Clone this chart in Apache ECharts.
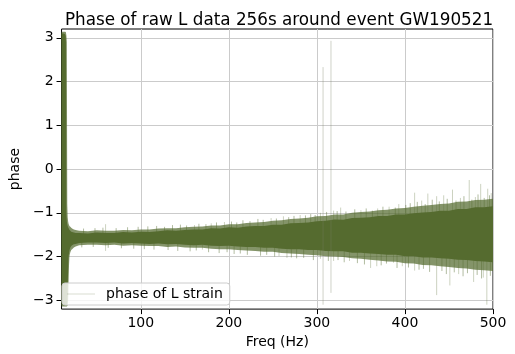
<!DOCTYPE html>
<html><head><meta charset="utf-8">
<script src="https://cdn.jsdelivr.net/npm/echarts@6/dist/echarts.min.js"></script>
<style>html,body{margin:0;padding:0;background:#fff}#c{width:515px;height:354px}</style>
</head><body><div id="c"></div>
<script>
// ---- data ----
const titleText = 'Phase of raw L data 256s around event GW190521';
const xTicks = [100, 200, 300, 400, 500];
const yTicks = [-3, -2, -1, 0, 1, 2, 3];

// band frequencies (Hz)
const bandF = [10, 12, 14, 14.8, 15, 15.5, 16, 16.5, 17, 17.5, 18, 18.5, 19, 19.5, 20, 21, 22, 24, 26,
  30, 40, 50, 60, 70, 80, 90, 100, 110, 120, 130, 140, 150, 160, 170, 180, 190, 200,
  210, 220, 230, 240, 250, 260, 270, 280, 290, 300, 310, 320, 330, 340, 350, 360, 370, 380,
  390, 400, 410, 420, 430, 440, 450, 460, 470, 480, 490, 500];
// dense core upper / lower
const coreHi = [3.10, 3.10, 3.08, 3.04, 2.9, -1.0, -1.2, -1.26, -1.3, -1.33, -1.35, -1.37, -1.39, -1.40, -1.41, -1.43, -1.44, -1.45, -1.46,
  -1.46, -1.47, -1.45, -1.46, -1.46, -1.44, -1.45, -1.43, -1.44, -1.42, -1.40, -1.41, -1.39, -1.38, -1.38, -1.35, -1.36, -1.33,
  -1.34, -1.31, -1.30, -1.30, -1.27, -1.27, -1.24, -1.23, -1.22, -1.19, -1.18, -1.15, -1.16, -1.12, -1.11, -1.10, -1.07, -1.07,
  -1.04, -1.04, -1.01, -0.99, -0.98, -0.95, -0.95, -0.91, -0.91, -0.87, -0.87, -0.85];
const coreLo = [-3.10, -3.10, -3.10, -3.10, -3.10, -3.10, -3.08, -3.0, -2.7, -2.3, -2.0, -1.92, -1.86, -1.82, -1.79, -1.76, -1.74, -1.72, -1.71,
  -1.69, -1.68, -1.68, -1.69, -1.68, -1.70, -1.69, -1.70, -1.71, -1.70, -1.72, -1.71, -1.73, -1.74, -1.73, -1.75, -1.76, -1.75,
  -1.77, -1.78, -1.78, -1.80, -1.80, -1.82, -1.83, -1.83, -1.85, -1.85, -1.87, -1.88, -1.88, -1.91, -1.91, -1.93, -1.94, -1.96,
  -1.96, -1.99, -1.99, -2.02, -2.02, -2.04, -2.05, -2.07, -2.08, -2.10, -2.11, -2.13];
// lighter fringe upper / lower
const fringeHi = [3.14, 3.14, 3.14, 3.13, 3.12, 3.05, 2.9, -0.8, -1.1, -1.2, -1.25, -1.28, -1.3, -1.31, -1.32, -1.34, -1.36, -1.38, -1.39,
  -1.41, -1.42, -1.40, -1.41, -1.41, -1.39, -1.40, -1.38, -1.38, -1.36, -1.35, -1.35, -1.33, -1.32, -1.31, -1.29, -1.29, -1.26,
  -1.26, -1.23, -1.22, -1.21, -1.18, -1.17, -1.14, -1.13, -1.11, -1.08, -1.07, -1.04, -1.04, -1.00, -0.98, -0.97, -0.94, -0.93,
  -0.90, -0.89, -0.86, -0.84, -0.82, -0.80, -0.79, -0.75, -0.74, -0.71, -0.70, -0.68];
const fringeLo = [-3.14, -3.14, -3.14, -3.14, -3.14, -3.14, -3.14, -3.13, -3.12, -3.0, -2.6, -2.2, -2.0, -1.94, -1.9, -1.85, -1.83, -1.79, -1.77,
  -1.74, -1.73, -1.73, -1.74, -1.73, -1.75, -1.74, -1.75, -1.76, -1.76, -1.78, -1.77, -1.79, -1.80, -1.80, -1.82, -1.83, -1.83,
  -1.85, -1.86, -1.87, -1.89, -1.89, -1.92, -1.93, -1.94, -1.96, -1.97, -1.99, -2.00, -2.01, -2.04, -2.05, -2.07, -2.09, -2.11,
  -2.12, -2.15, -2.16, -2.19, -2.20, -2.22, -2.24, -2.26, -2.27, -2.30, -2.31, -2.33];

// isolated outlier spikes: [freq, low, high]
const lineSpikes = [[307, -3.10, 2.33], [316, -2.83, 2.93]];
const fringeSpikes = [
  [60, -1.87, -1.26], [161, -1.55, -1.28], [170, -1.84, -1.6], [180, -1.55, -1.24], [195, -1.55, -1.21],
  [248, -1.5, -1.12], [257, -1.99, -1.6], [262, -1.5, -1.08], [266, -2.03, -1.6], [281, -1.5, -1.05],
  [304, -2.05, -1.0], [319, -2.1, -0.95], [327, -1.5, -0.88], [337, -2.1, -1.5], [350, -1.5, -0.94],
  [361, -2.26, -1.5], [368, -2.22, -1.5], [369, -1.5, -0.9], [382, -1.5, -0.86], [387, -2.14, -1.5],
  [393, -1.5, -0.8], [397, -2.22, -1.5], [411, -2.32, -0.54], [419, -1.5, -0.72], [426, -1.5, -0.56],
  [436, -2.88, -0.62], [444, -1.5, -0.6], [451, -2.66, -1.5], [454, -1.5, -0.47], [461, -2.4, -1.5],
  [463, -1.5, -0.66], [473, -1.5, -0.25], [478, -2.58, -1.5], [480, -1.5, -0.64], [486, -1.5, -0.34],
  [489, -2.48, -1.5], [493, -3.1, -1.5], [494, -1.5, -0.45], [498, -1.5, -0.55]];
// short hairs on the band edges: [freq, tip]
const hairsUp = [[35, -1.36], [48, -1.35], [57, -1.34], [72, -1.35], [85, -1.33], [97, -1.32], [108, -1.31],
  [118, -1.30], [127, -1.32], [136, -1.28], [145, -1.27], [152, -1.29], [166, -1.25], [174, -1.26],
  [186, -1.22], [203, -1.20], [209, -1.22], [216, -1.17], [224, -1.19], [233, -1.14], [239, -1.16],
  [254, -1.13], [268, -1.10], [274, -1.07], [287, -1.06], [293, -1.03], [298, -1.05], [311, -0.98],
  [323, -0.96], [333, -0.97], [343, -0.92], [356, -0.90], [363, -0.95], [375, -0.86], [389, -0.88],
  [401, -0.82], [406, -0.78], [414, -0.75], [423, -0.80], [431, -0.70], [439, -0.74], [448, -0.68],
  [458, -0.72], [467, -0.62], [476, -0.70], [483, -0.58], [490, -0.66], [496, -0.60]];
const hairsDown = [[33, -1.79], [46, -1.78], [63, -1.80], [78, -1.81], [92, -1.82], [104, -1.83], [115, -1.84],
  [131, -1.85], [142, -1.87], [156, -1.88], [163, -1.86], [177, -1.90], [189, -1.92], [198, -1.90],
  [206, -1.94], [213, -1.93], [221, -1.96], [236, -1.98], [243, -1.96], [252, -2.00], [271, -2.02],
  [277, -2.04], [285, -2.03], [296, -2.08], [313, -2.10], [324, -2.08], [331, -2.13], [346, -2.15],
  [354, -2.18], [373, -2.20], [379, -2.16], [391, -2.26], [404, -2.25], [416, -2.30], [421, -2.28],
  [428, -2.35], [442, -2.33], [447, -2.40], [456, -2.36], [466, -2.45], [471, -2.38], [482, -2.42],
  [487, -2.50], [497, -2.44]];

// ---- build ----
const OLIVE = '#556b2f';
const FONT = 'DejaVu Sans';
const BAND_MID = -1.5;
const minus = v => (v < 0 ? '\u2212' + Math.abs(v) : String(v));
const bandData = (lo, hi) => bandF.map((f, i) => [f, lo[i], hi[i]]);
const hairData = hairsUp.map(h => [h[0], BAND_MID, h[1]]).concat(hairsDown.map(h => [h[0], h[1], BAND_MID]));

function bandRender(rows, color) {
  return function (params, api) {
    if (params.dataIndex !== 0) return null;
    const up = rows.map(r => api.coord([r[0], r[2]]));
    const dn = rows.map(r => api.coord([r[0], r[1]])).reverse();
    return { type: 'polygon', shape: { points: up.concat(dn) }, style: { fill: color } };
  };
}
function spikeRender(color) {
  return function (params, api) {
    const a = api.coord([api.value(0), api.value(1)]);
    const b = api.coord([api.value(0), api.value(2)]);
    return { type: 'line', shape: { x1: a[0], y1: a[1], x2: b[0], y2: b[1] },
      style: { stroke: color, lineWidth: 1 } };
  };
}
const fringeRows = bandData(fringeLo, fringeHi);
const coreRows = bandData(coreLo, coreHi);

const chart = echarts.init(document.getElementById('c'), null, { renderer: 'canvas' });
chart.setOption({
  animation: false,
  backgroundColor: '#fff',
  title: { text: titleText, left: 274, textAlign: 'center', top: 7,
    textStyle: { fontFamily: FONT, fontSize: 16.8, fontWeight: 'normal', color: '#000' } },
  grid: { left: 55, right: 22, top: 29, bottom: 39.5, show: true, borderColor: '#000', borderWidth: 1, backgroundColor: 'transparent' },
  legend: {
    data: [{ name: 'phase of L strain', icon: 'rect', itemStyle: { color: 'rgba(85,107,47,0.22)' } }],
    left: 62, top: 283, itemWidth: 28, itemHeight: 1,
    padding: [4, 7, 4, 5],
    backgroundColor: 'rgba(255,255,255,0.8)', borderColor: '#cccccc', borderWidth: 1, borderRadius: 3,
    textStyle: { fontFamily: FONT, fontSize: 14, color: '#000', padding: [0, 0, 0, 6] },
    selectedMode: false
  },
  xAxis: {
    type: 'value', min: 10, max: 500,
    name: 'Freq (Hz)', nameLocation: 'middle', nameGap: 20,
    nameTextStyle: { fontFamily: FONT, fontSize: 14, color: '#000' },
    axisLine: { show: false, onZero: false },
    axisTick: { show: true, length: 5, lineStyle: { color: '#000' }, customValues: xTicks },
    axisLabel: { fontFamily: FONT, fontSize: 14, color: '#000', margin: 7, customValues: xTicks },
    splitLine: { show: true, lineStyle: { color: '#cbcbcb', width: 1 } }
  },
  yAxis: {
    type: 'value', min: -3.2, max: 3.2,
    name: 'phase', nameLocation: 'middle', nameGap: 31,
    nameTextStyle: { fontFamily: FONT, fontSize: 14, color: '#000' },
    axisLine: { show: false, onZero: false },
    axisTick: { show: true, length: 5, lineStyle: { color: '#000' }, customValues: yTicks },
    axisLabel: { fontFamily: FONT, fontSize: 14, color: '#000', margin: 8, customValues: yTicks, formatter: minus },
    splitLine: { show: true, lineStyle: { color: '#cbcbcb', width: 1 } }
  },
  series: [
    { name: 'phase of L strain', type: 'custom', data: fringeRows, encode: { x: 0, y: [1, 2] },
      renderItem: bandRender(fringeRows, 'rgba(85,107,47,0.72)'), itemStyle: { color: 'rgba(85,107,47,0.22)' },
      clip: true, silent: true, z: 2 },
    { name: 'core', type: 'custom', data: coreRows, encode: { x: 0, y: [1, 2] },
      renderItem: bandRender(coreRows, OLIVE), clip: true, silent: true, z: 3 },
    { name: 'hairs', type: 'custom', data: hairData, encode: { x: 0, y: [1, 2] },
      renderItem: spikeRender('rgba(85,107,47,0.45)'), clip: true, silent: true, z: 1 },
    { name: 'lineSpikes', type: 'custom', data: lineSpikes, encode: { x: 0, y: [1, 2] },
      renderItem: spikeRender('rgba(120,130,100,0.35)'), clip: true, silent: true, z: 4 },
    { name: 'fringeSpikes', type: 'custom', data: fringeSpikes, encode: { x: 0, y: [1, 2] },
      renderItem: spikeRender('rgba(85,107,47,0.3)'), clip: true, silent: true, z: 1 }
  ]
});
</script></body></html>
